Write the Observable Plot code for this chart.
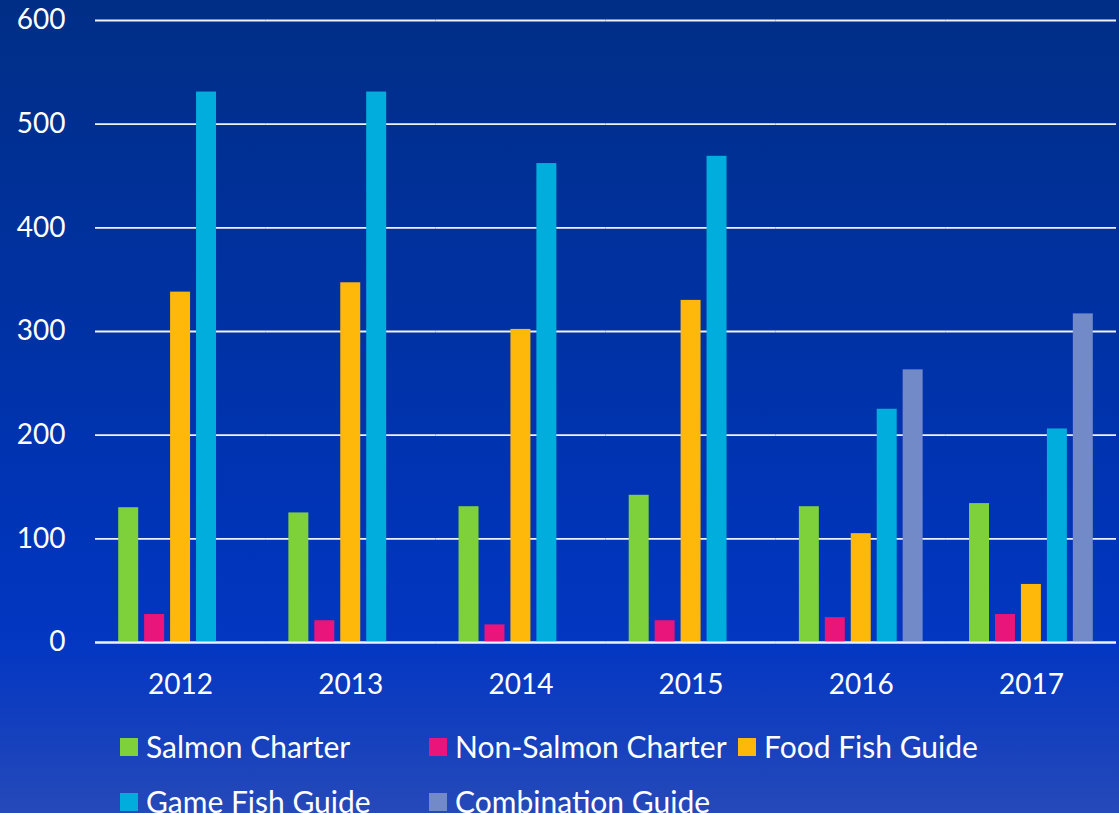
<!DOCTYPE html>
<html>
<head>
<meta charset="utf-8">
<script src="https://cdn.jsdelivr.net/npm/d3@7"></script>
<script src="https://cdn.jsdelivr.net/npm/@observablehq/plot@0.6"></script>
<style>
  html, body { margin: 0; padding: 0; width: 1119px; height: 813px; overflow: hidden; }
  body {
    background: linear-gradient(to bottom, #002e86 0%, #0031a0 35%, #0034b8 65%, #0437c2 80%, #2549b9 100%);
    font-family: Lato, "Open Sans", sans-serif;
    color: #fff;
    position: relative;
  }
  #chart svg { display: block; }
  #legend {
    position: absolute; left: 120px; top: 733px;
    display: grid; grid-template-columns: 309px 309px 309px;
    row-gap: 28px;
  }
  .item { display: flex; align-items: center; height: 27px; font-size: 30px; line-height: 27px; white-space: nowrap; }
  .sw { width: 18px; height: 18px; margin-right: 8px; flex: none; }
</style>
</head>
<body>
<div id="chart"></div>
<div id="legend"></div>
<script>
const years = ["2012", "2013", "2014", "2015", "2016", "2017"];
const seriesNames = ["Salmon Charter", "Non-Salmon Charter", "Food Fish Guide", "Game Fish Guide", "Combination Guide"];
const salmonCharter    = [130, 125, 131, 142, 131, 134];
const nonSalmonCharter = [27, 21, 17, 21, 24, 27];
const foodFishGuide    = [338, 347, 302, 330, 105, 56];
const gameFishGuide    = [531, 531, 462, 469, 225, 206];
const combinationGuide = [null, null, null, null, 263, 317];
const yTicks = [0, 100, 200, 300, 400, 500, 600];
const colors = ["#7fd13b", "#ea157a", "#feb80a", "#00addc", "#738ac8"];

const seriesValues = [salmonCharter, nonSalmonCharter, foodFishGuide, gameFishGuide, combinationGuide];
const data = [];
years.forEach((year, i) => {
  seriesNames.forEach((s, j) => {
    const v = seriesValues[j][i];
    if (v != null) data.push({ year, series: s, value: v });
  });
});

const chart = Plot.plot({
  width: 1119,
  height: 712,
  marginLeft: 95,
  marginRight: 3,
  marginTop: 20,
  marginBottom: 70,
  style: {
    background: "transparent",
    color: "white",
    fontFamily: "Lato, 'Open Sans', sans-serif",
    fontSize: "28px"
  },
  fx: { domain: years, padding: 0, round: false, label: null, axis: "bottom", tickSize: 0, tickPadding: 32 },
  x: { domain: seriesNames, paddingInner: 0.23, paddingOuter: 0.894, round: false, axis: null },
  y: { domain: [0, 600], ticks: yTicks, label: null, tickSize: 0, tickPadding: 30 },
  color: { domain: seriesNames, range: colors },
  marks: [
    Plot.ruleY(yTicks, { stroke: "#eef1f8", strokeWidth: 1.8 }),
    Plot.barY(data, { fx: "year", x: "series", y: "value", fill: "series" }),
    Plot.ruleY([0], { stroke: "#eef1f8", strokeWidth: 1.8 })
  ]
});
document.getElementById("chart").appendChild(chart);

const legend = document.getElementById("legend");
seriesNames.forEach((s, i) => {
  const item = document.createElement("div");
  item.className = "item";
  const sw = document.createElement("span");
  sw.className = "sw";
  sw.style.background = colors[i];
  const t = document.createElement("span");
  t.textContent = s;
  item.appendChild(sw);
  item.appendChild(t);
  legend.appendChild(item);
});
</script>
</body>
</html>
